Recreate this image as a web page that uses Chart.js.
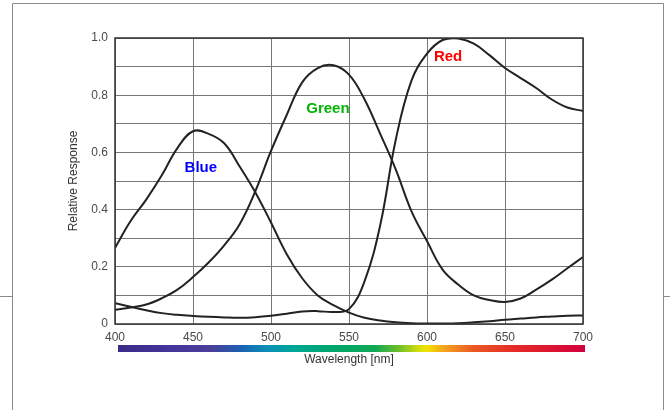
<!DOCTYPE html>
<html>
<head>
<meta charset="utf-8">
<script src="https://cdn.jsdelivr.net/npm/chart.js@4.4.1/dist/chart.umd.min.js"></script>
<style>
    html, body { margin: 0; padding: 0; background: #fff; }
    canvas { display: block; }
</style>
</head>
<body>
<canvas id="responseChart" width="670" height="410"></canvas>
<script>
// Wavelength samples (nm) and the read-off response of each channel
const wavelengths = [400, 410, 420, 430, 440, 450, 460, 470, 480, 490, 500, 510, 520, 530, 540, 550,
    560, 570, 580, 590, 600, 610, 620, 630, 640, 650, 660, 670, 680, 690, 700];

const blueResponse = [0.266, 0.36, 0.435, 0.52, 0.615, 0.674, 0.665, 0.632, 0.55, 0.46, 0.355, 0.245, 0.16, 0.10, 0.066, 0.04,
    0.022, 0.012, 0.006, 0.003, 0.002, 0.002, 0.003, 0.006, 0.01, 0.015, 0.019, 0.023, 0.026, 0.029, 0.03];

const greenResponse = [0.05, 0.058, 0.068, 0.09, 0.12, 0.164, 0.215, 0.275, 0.35, 0.465, 0.605, 0.73, 0.845, 0.895, 0.905, 0.872,
    0.785, 0.665, 0.54, 0.395, 0.29, 0.19, 0.138, 0.10, 0.084, 0.077, 0.089, 0.12, 0.155, 0.195, 0.234];

const redResponse = [0.073, 0.06, 0.048, 0.038, 0.032, 0.028, 0.025, 0.023, 0.022, 0.024, 0.029, 0.036, 0.044, 0.045, 0.042, 0.052,
    0.15, 0.345, 0.645, 0.85, 0.945, 0.993, 0.998, 0.98, 0.94, 0.895, 0.86, 0.825, 0.785, 0.757, 0.745];

// Curve names written inside the plot, placed at (nm, response)
const curveLabels = ['Blue', 'Green', 'Red'];
const labelColors = ['#0000ff', '#00b400', '#ff0000'];
const labelX = [455, 536.5, 613.5];
const labelY = [0.545, 0.752, 0.934];

const xTicks = [400, 450, 500, 550, 600, 650, 700];

// Spectrum strip under the axis
const spectrumStops = [
    [0.00, '#3b2a88'], [0.12, '#43359a'], [0.20, '#4a3f98'], [0.26, '#1c5fb0'],
    [0.32, '#0b8fb8'], [0.38, '#00a896'], [0.46, '#00a56a'], [0.55, '#10a855'],
    [0.60, '#6cbd2c'], [0.64, '#c8dc10'], [0.66, '#f0e400'], [0.70, '#f3a21e'],
    [0.76, '#ea5a24'], [0.85, '#e52a26'], [1.00, '#d2003c']
];

function toPoints(values) {
    return wavelengths.map((w, i) => ({ x: w, y: values[i] }));
}

const decorPlugin = {
    id: 'decor',
    beforeDraw(chart) {
        const ctx = chart.ctx;
        ctx.save();
        ctx.fillStyle = '#ffffff';
        ctx.fillRect(0, 0, chart.width, chart.height);
        // scanned page frame
        ctx.strokeStyle = '#8a8a8a';
        ctx.lineWidth = 1;
        ctx.beginPath();
        ctx.moveTo(12.5, 420);
        ctx.lineTo(12.5, 3.5);
        ctx.lineTo(663.5, 3.5);
        ctx.lineTo(663.5, 420);
        ctx.moveTo(0, 296.5);
        ctx.lineTo(12, 296.5);
        ctx.moveTo(664, 296.5);
        ctx.lineTo(670, 296.5);
        ctx.stroke();
        ctx.restore();
    },
    afterDraw(chart) {
        const ctx = chart.ctx;
        const x = chart.scales.x;
        const y = chart.scales.y;
        const area = chart.chartArea;
        ctx.save();

        // plot border
        ctx.strokeStyle = '#333';
        ctx.lineWidth = 1.5;
        ctx.strokeRect(area.left, area.top, area.right - area.left, area.bottom - area.top);

        // spectrum bar
        const x0 = x.getPixelForValue(400) + 3;
        const x1 = x.getPixelForValue(700) + 2;
        const grad = ctx.createLinearGradient(x0, 0, x1, 0);
        spectrumStops.forEach(s => grad.addColorStop(s[0], s[1]));
        ctx.fillStyle = grad;
        ctx.fillRect(x0, area.bottom + 21, x1 - x0, 7);

        // curve names
        ctx.font = 'bold 15px "Liberation Sans", Arial, sans-serif';
        ctx.textAlign = 'center';
        ctx.textBaseline = 'middle';
        curveLabels.forEach((name, i) => {
            ctx.fillStyle = labelColors[i];
            ctx.fillText(name, x.getPixelForValue(labelX[i]), y.getPixelForValue(labelY[i]));
        });
        ctx.restore();
    }
};

function lineSet(label, values) {
    return {
        label: label,
        data: toPoints(values),
        borderColor: '#222',
        borderWidth: 2,
        pointRadius: 0,
        tension: 0.4,
        fill: false
    };
}

const tickFont = { family: '"Liberation Sans", Arial, sans-serif', size: 12 };
const titleFont = { family: '"Liberation Sans", Arial, sans-serif', size: 12 };

new Chart(document.getElementById('responseChart').getContext('2d'), {
    type: 'line',
    data: {
        datasets: [
            lineSet('Blue', blueResponse),
            lineSet('Green', greenResponse),
            lineSet('Red', redResponse)
        ]
    },
    options: {
        responsive: false,
        animation: false,
        devicePixelRatio: 1,
        layout: { padding: { left: 0, top: 38, right: 87, bottom: 0 } },
        plugins: {
            legend: { display: false },
            tooltip: { enabled: false }
        },
        scales: {
            x: {
                type: 'linear',
                min: 400,
                max: 700,
                afterFit(scale) { scale.height = 86; },
                afterBuildTicks(scale) { scale.ticks = xTicks.map(v => ({ value: v })); },
                grid: { color: '#777', lineWidth: 1, drawTicks: false },
                border: { display: false },
                ticks: { font: tickFont, color: '#4a4a4a', padding: 6, maxRotation: 0 },
                title: {
                    display: true,
                    text: 'Wavelength [nm]',
                    font: titleFont,
                    color: '#333',
                    padding: { top: 0, bottom: 43 }
                }
            },
            y: {
                min: 0,
                max: 1,
                afterFit(scale) { scale.width = 115; },
                grid: { color: '#777', lineWidth: 1, drawTicks: false },
                border: { display: false },
                ticks: {
                    stepSize: 0.1,
                    font: tickFont,
                    color: '#4a4a4a',
                    padding: 7,
                    autoSkip: false,
                    callback(value) {
                        const k = Math.round(value * 10);
                        if (k % 2 !== 0) return '';
                        return k === 0 ? '0' : (k / 10).toFixed(1);
                    }
                },
                title: {
                    display: true,
                    text: 'Relative Response',
                    font: titleFont,
                    color: '#333',
                    padding: { top: 66, bottom: 0 }
                }
            }
        }
    },
    plugins: [decorPlugin]
});
</script>
</body>
</html>
